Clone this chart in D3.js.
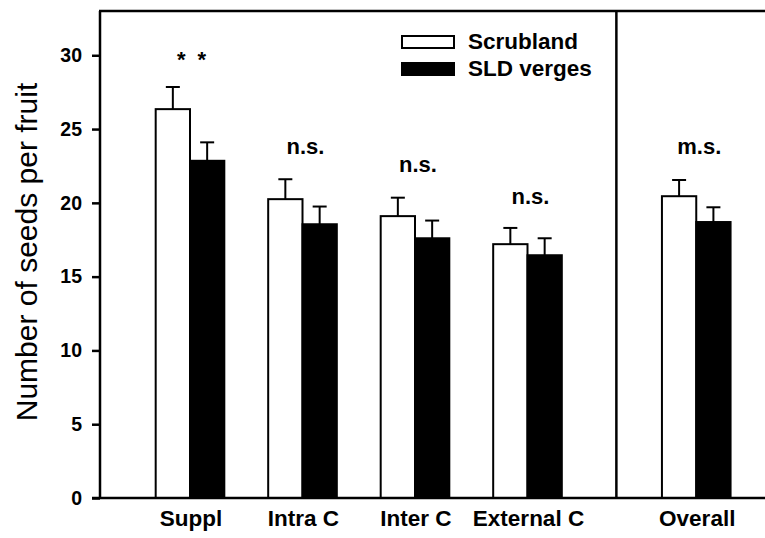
<!DOCTYPE html>
<html>
<head>
<meta charset="utf-8">
<script src="https://cdn.jsdelivr.net/npm/d3@7"></script>
<style>
  body { margin: 0; background: #fff; }
  svg { display: block; font-family: "Liberation Sans", Arial, sans-serif; }
</style>
</head>
<body>
<div id="chart-area"></div>
<script>
// data
var categories = ["Suppl", "Intra C", "Inter C", "External C", "Overall"];
var positions = [1, 2, 3, 4, 5.5];
var scrubland = [26.35, 20.25, 19.1, 17.2, 20.45];
var scrublandErr = [1.5, 1.35, 1.25, 1.1, 1.1];
var verges = [22.85, 18.55, 17.6, 16.45, 18.7];
var vergesErr = [1.25, 1.2, 1.2, 1.15, 1.0];
var signif = ["* *", "n.s.", "n.s.", "n.s.", "m.s."];
var signifY = [29.2, 23.3, 22.1, 19.9, 23.3];
var yTicks = [0, 5, 10, 15, 20, 25, 30];
var series = ["Scrubland", "SLD verges"];
var divider = 4.79;

var W = 765, H = 538;
var margin = {left: 100, top: 11, right: 0, bottom: 40};
var height = H - margin.top - margin.bottom;

var svg = d3.select("#chart-area").append("svg")
    .attr("width", W)
    .attr("height", H);

var x = d3.scaleLinear()
    .domain([0.2, 6.2])
    .range([margin.left, margin.left + 675]);

var y = d3.scaleLinear()
    .domain([0, 33])
    .range([margin.top + height, margin.top]);

var barW = x(1.305) - x(1);
var capW = 14;

var data = categories.map(function(c, i) {
    return {
        cat: c, pos: positions[i],
        vals: [
            {v: scrubland[i], e: scrublandErr[i], k: 0},
            {v: verges[i], e: vergesErr[i], k: 1}
        ]
    };
});

var groups = svg.selectAll("g.grp")
    .data(data)
    .enter().append("g")
    .attr("class", "grp");

// error bars, upper half only
groups.selectAll("g.err")
    .data(function(d) { return d.vals.map(function(v) { return {pos: d.pos, v: v.v, e: v.e, k: v.k}; }); })
    .enter().append("g")
    .attr("class", "err")
    .each(function(d) {
        var cx = x(d.pos) + (d.k === 0 ? -barW / 2 : barW / 2);
        var g = d3.select(this);
        g.append("line")
            .attr("x1", cx).attr("x2", cx)
            .attr("y1", y(d.v)).attr("y2", y(d.v + d.e))
            .attr("stroke", "#000").attr("stroke-width", 2);
        g.append("line")
            .attr("x1", cx - capW / 2).attr("x2", cx + capW / 2)
            .attr("y1", y(d.v + d.e)).attr("y2", y(d.v + d.e))
            .attr("stroke", "#000").attr("stroke-width", 2);
    });

groups.selectAll("rect")
    .data(function(d) { return d.vals.map(function(v) { return {pos: d.pos, v: v.v, k: v.k}; }); })
    .enter().append("rect")
    .attr("x", function(d) { return d.k === 0 ? x(d.pos) - barW : x(d.pos); })
    .attr("y", function(d) { return y(d.v); })
    .attr("width", barW)
    .attr("height", function(d) { return y(0) - y(d.v); })
    .attr("fill", function(d) { return d.k === 0 ? "#fff" : "#000"; })
    .attr("stroke", "#000")
    .attr("stroke-width", 2);

// significance labels
svg.selectAll("text.sig")
    .data(data)
    .enter().append("text")
    .attr("class", "sig")
    .attr("x", function(d) { return x(d.pos) + 3; })
    .attr("y", function(d, i) { return y(signifY[i]); })
    .attr("text-anchor", "middle")
    .attr("font-size", "22px")
    .attr("font-weight", "bold")
    .attr("letter-spacing", function(d, i) { return signif[i] === "* *" ? "3px" : null; })
    .text(function(d, i) { return signif[i]; });

// axes
var yAxis = d3.axisLeft(y).tickValues(yTicks).tickSize(8).tickPadding(10);
var gy = svg.append("g")
    .attr("transform", "translate(" + margin.left + ",0)")
    .call(yAxis);
gy.select(".domain").remove();
gy.selectAll(".tick line").attr("stroke", "#000").attr("stroke-width", 2.5);
gy.selectAll(".tick text")
    .attr("font-size", "19.5px")
    .attr("font-weight", "bold")
    .attr("font-family", "'Liberation Sans', Arial, sans-serif")
    .attr("fill", "#000");

// frame lines
svg.append("line")
    .attr("x1", margin.left).attr("x2", margin.left)
    .attr("y1", y(0)).attr("y2", margin.top)
    .attr("stroke", "#000").attr("stroke-width", 2.5);
svg.append("line")
    .attr("x1", margin.left - 1).attr("x2", W)
    .attr("y1", margin.top).attr("y2", margin.top)
    .attr("stroke", "#000").attr("stroke-width", 2.5);
svg.append("line")
    .attr("x1", margin.left - 8).attr("x2", W)
    .attr("y1", y(0)).attr("y2", y(0))
    .attr("stroke", "#000").attr("stroke-width", 2.5);
svg.append("line")
    .attr("x1", x(divider)).attr("x2", x(divider))
    .attr("y1", y(0)).attr("y2", margin.top)
    .attr("stroke", "#000").attr("stroke-width", 2.5);

// x labels
svg.selectAll("text.xlab")
    .data(data)
    .enter().append("text")
    .attr("class", "xlab")
    .attr("x", function(d) { return x(d.pos) + 1; })
    .attr("y", y(0) + 28)
    .attr("text-anchor", "middle")
    .attr("font-size", "22.5px")
    .attr("font-weight", "bold")
    .text(function(d) { return d.cat; });

// y label
svg.append("text")
    .attr("transform", "translate(37,252) rotate(-90)")
    .attr("text-anchor", "middle")
    .attr("font-size", "30px")
    .text("Number of seeds per fruit");

// legend
var legend = svg.append("g").attr("transform", "translate(402,36)");
series.forEach(function(s, i) {
    legend.append("rect")
        .attr("x", 0).attr("y", i * 27)
        .attr("width", 52).attr("height", 12)
        .attr("fill", i === 0 ? "#fff" : "#000")
        .attr("stroke", "#000").attr("stroke-width", 2);
    legend.append("text")
        .attr("x", 66).attr("y", i * 27 + 13)
        .attr("font-size", "22.5px")
        .attr("font-weight", "bold")
        .text(s);
});
</script>
</body>
</html>
